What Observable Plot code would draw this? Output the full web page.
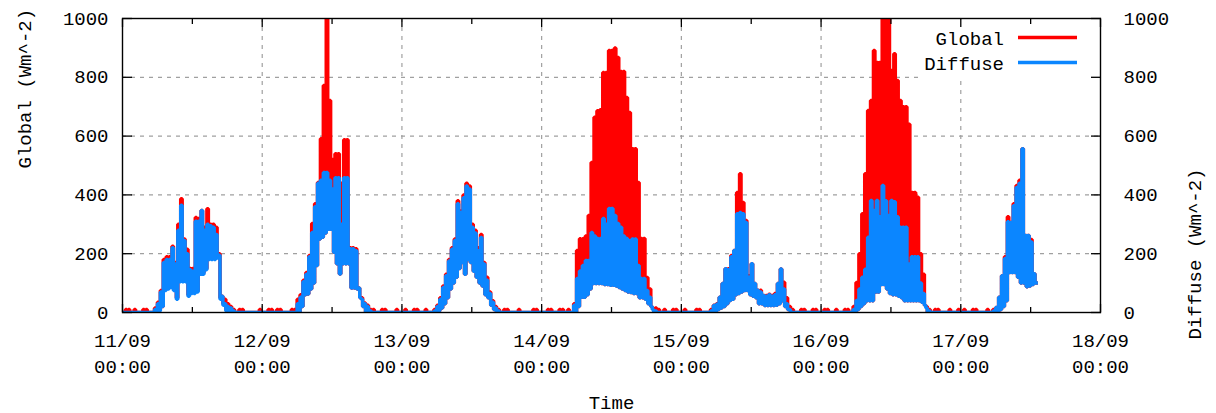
<!DOCTYPE html>
<html>
<head>
<meta charset="utf-8">
<script src="https://cdn.jsdelivr.net/npm/d3@7"></script>
<script src="https://cdn.jsdelivr.net/npm/@observablehq/plot@0.6"></script>
<style>
  html, body { margin: 0; padding: 0; background: #fff; }
  #chart { width: 1216px; height: 413px; }
</style>
</head>
<body>
<div id="chart"></div>
<script>
// ---------- data ----------
const startTime = "2013-09-11T00:00:00Z";   // first reading, 30-minute slots, second reading 15 min later
const dayTicks = ["2013-09-11","2013-09-12","2013-09-13","2013-09-14","2013-09-15","2013-09-16","2013-09-17","2013-09-18"];
const gridDays = ["2013-09-12","2013-09-13","2013-09-14","2013-09-15","2013-09-16","2013-09-17"];
const noonTicks = ["2013-09-11T12:00Z","2013-09-12T12:00Z","2013-09-13T12:00Z","2013-09-14T12:00Z","2013-09-15T12:00Z","2013-09-16T12:00Z","2013-09-17T12:00Z"];
const yTicks = [0, 200, 400, 600, 800, 1000];
const yGrid = [200, 400, 600, 800];
const seriesNames = ["Global", "Diffuse"];
const yLabelLeft = "Global (Wm^-2)";
const yLabelRight = "Diffuse (Wm^-2)";
const xLabel = "Time";

// Global irradiance, reading on the half hour (Wm^-2)
const globalA = [
 0,10,10,0,10,0,0,10,10,0,0, 15,35,75,180,190,190,225,170,300,387,250,215,150,150,323,320,347,290,353,300,300,290,200,55,45,30,20,10, 0,10,10,0,0,0,0,0,10,
 0,0,10,10,0,10,10,0,0,0,10,10, 45,60,110,136,194,303,370,442,591,772,1000,721,520,540,540,440,588,588,220,220,217,83,50,32,25,10,10, 0,0,10,10,0,0,0,10,0,
 0,10,0,0,10,10,0,0,10,0,0, 10,25,50,90,130,180,220,250,380,345,400,440,430,300,280,220,265,170,120,70,40,20,10, 0,10,10,0,0,0,10,0,0,0,0,10,10,0,
 0,0,10,10,0,0,10,10,0,10,0, 30,211,251,251,260,330,510,664,686,690,816,816,891,891,900,867,820,820,731,680,557,557,442,252,252,119,80,15,15,10, 0,10,0,0,10,10,0,
 0,10,0,0,0,10,10,0,0,0, 10,25,30,52,99,149,149,194,211,408,472,374,313,125,166,99,76,76,58,58,62,58,65,99,148,103,50,20,10, 0,0,10,10,0,0,10,10,0,
 0,10,10,0,0,10,0,0,10,10,0, 20,102,200,336,472,687,721,891,850,850,1000,1000,1000,823,880,789,721,700,700,640,408,408,392,200,130,20,10, 0,10,10,0,0,0,10,0,0,10,
 0,10,0,0,10,10,0,0,0,10,0, 10,17,52,125,190,326,306,370,432,450,557,262,262,248,132,100
];
// Global irradiance, reading at quarter past (Wm^-2)
const globalB = [
 0,0,0,0,0,0,0,0,0,0,0, 0,10,20,80,85,90,80,50,110,110,110,60,70,70,75,135,135,150,183,185,185,190,50,30,10,0,0,0, 0,0,0,0,0,0,0,0,0,
 0,0,0,0,0,0,0,0,0,0,0,0, 0,20,60,63,80,100,160,250,256,270,283,283,205,166,131,166,166,166,83,83,80,50,20,0,0,0,0, 0,0,0,0,0,0,0,0,0,
 0,0,0,0,0,0,0,0,0,0,0, 0,5,15,30,50,80,100,120,150,170,130,180,170,140,120,100,90,60,50,25,10,0,0, 0,0,0,0,0,0,0,0,0,0,0,0,0,0,
 0,0,0,0,0,0,0,0,0,0,0, 0,20,52,52,60,80,99,99,99,99,95,95,93,93,90,85,80,75,70,68,65,65,50,50,45,30,20,0,0,0, 0,0,0,0,0,0,0,
 0,0,0,0,0,0,0,0,0,0, 0,0,10,15,20,30,41,45,60,65,70,75,75,60,55,50,30,30,24,24,24,24,25,30,40,20,10,0,0, 0,0,0,0,0,0,0,0,0,
 0,0,0,0,0,0,0,0,0,0,0, 0,10,20,30,40,40,40,70,70,95,95,80,65,60,60,55,50,40,40,40,40,40,40,35,25,0,0, 0,0,0,0,0,0,0,0,0,0,
 0,0,0,0,0,0,0,0,0,0,0, 0,0,10,20,40,136,136,136,120,100,100,88,90,95,100,100
];
// Diffuse irradiance, reading on the half hour (Wm^-2)
const diffuseA = [
 0,0,0,0,0,0,0,0,0,0,0, 10,30,70,170,180,180,220,165,280,365,245,200,145,140,310,310,347,280,300,295,290,265,195,55,30,20,15,5, 0,0,0,0,0,0,0,0,0,
 0,0,0,0,0,0,0,0,0,0,0,0, 30,52,105,130,190,272,360,440,450,476,476,450,420,458,458,300,458,458,217,217,210,83,45,30,20,5,0, 0,0,0,0,0,0,0,0,0,
 0,0,0,0,0,0,0,0,0,0,0, 5,20,45,85,125,175,215,245,370,340,390,430,420,290,270,210,255,165,110,65,35,15,5, 0,0,0,0,0,0,0,0,0,0,0,0,0,0,
 0,0,0,0,0,0,0,0,0,0,0, 25,116,141,160,177,177,272,260,252,252,320,300,354,354,330,303,290,260,252,244,250,250,160,116,116,75,52,10,5,0, 0,0,0,0,0,0,0,
 0,0,0,0,0,0,0,0,0,0, 5,24,28,52,99,149,145,190,211,336,340,336,306,120,166,99,76,70,58,55,60,55,60,99,148,80,30,10,0, 0,0,0,0,0,0,0,0,0,
 0,0,0,0,0,0,0,0,0,0,0, 10,41,80,120,147,256,381,347,381,326,432,380,330,381,377,326,290,290,290,165,190,190,190,100,65,15,5, 0,0,0,0,0,0,0,0,0,0,
 0,0,0,0,0,0,0,0,0,0,0, 5,17,52,125,184,309,306,363,425,440,557,262,262,240,132,100
];
// Diffuse irradiance, reading at quarter past (Wm^-2)
const diffuseB = [
 0,0,0,0,0,0,0,0,0,0,0, 0,5,20,75,80,85,75,45,105,105,105,55,65,65,70,130,130,145,180,180,180,185,45,25,5,0,0,0, 0,0,0,0,0,0,0,0,0,
 0,0,0,0,0,0,0,0,0,0,0,0, 0,20,60,63,80,100,160,250,256,270,283,283,205,166,131,166,166,166,83,83,80,50,20,0,0,0,0, 0,0,0,0,0,0,0,0,0,
 0,0,0,0,0,0,0,0,0,0,0, 0,5,15,30,50,80,100,120,150,170,130,180,170,140,120,100,90,60,50,25,10,0,0, 0,0,0,0,0,0,0,0,0,0,0,0,0,0,
 0,0,0,0,0,0,0,0,0,0,0, 0,20,52,52,60,80,99,99,99,99,95,95,93,93,90,85,80,75,70,68,65,65,50,50,45,30,20,0,0,0, 0,0,0,0,0,0,0,
 0,0,0,0,0,0,0,0,0,0, 0,0,10,15,20,30,41,45,60,65,70,75,75,60,55,50,30,30,24,24,24,24,25,30,40,20,10,0,0, 0,0,0,0,0,0,0,0,0,
 0,0,0,0,0,0,0,0,0,0,0, 0,10,20,30,40,40,40,70,70,95,95,80,65,60,60,55,50,40,40,40,40,40,40,35,25,0,0, 0,0,0,0,0,0,0,0,0,0,
 0,0,0,0,0,0,0,0,0,0,0, 0,0,10,20,40,136,136,136,120,100,100,88,90,95,100,100
];

// ---------- styles ----------
const RED = "#ff0000";
const BLUE = "#0b86ff";
const GRID = "#a0a0a0";
const FONT = "'Liberation Mono', 'DejaVu Sans Mono', monospace";

// ---------- table ----------
const n = globalA.length;
if (![globalB, diffuseA, diffuseB].every(a => a.length === n)) throw new Error("length mismatch " + [n, globalB.length, diffuseA.length, diffuseB.length]);
const t0 = new Date(startTime).getTime();
const slot = 30 * 60 * 1000;
const rows = [];
for (let i = 0; i < n; i++) {
  rows.push({t: new Date(t0 + i * slot), g: globalA[i], d: diffuseA[i]});
  rows.push({t: new Date(t0 + i * slot + slot / 2), g: globalB[i], d: diffuseB[i]});
}
const parseT = s => new Date(s.length === 10 ? s + "T00:00:00Z" : s);
const dayDates = dayTicks.map(parseT);
const gridDates = gridDays.map(parseT);
const noonDates = noonTicks.map(parseT);
const fmtDay = d3.utcFormat("%d/%m"), fmtHour = d3.utcFormat("%H:%M");
const fmtY = d => String(d);

const chart = Plot.plot({
  width: 1216,
  height: 413,
  marginLeft: 122,
  marginRight: 116,
  marginTop: 18,
  marginBottom: 101,
  style: {fontFamily: FONT, fontSize: "19px", background: "#fff", color: "#000", overflow: "visible"},
  x: {type: "utc", domain: [dayDates[0], dayDates[dayDates.length - 1]], label: null},
  y: {domain: [0, 1000], label: null},
  marks: [
    Plot.gridX(gridDates, {stroke: GRID, strokeOpacity: 1, strokeWidth: 1.2, strokeDasharray: "4,5"}),
    Plot.gridY(yGrid, {stroke: GRID, strokeOpacity: 1, strokeWidth: 1.2, strokeDasharray: "4,5"}),
    Plot.line(rows, {x: "t", y: "g", curve: "step-after", stroke: RED, strokeWidth: 3.5, strokeLinejoin: "miter", strokeLinecap: "butt", clip: true}),
    Plot.line(rows, {x: "t", y: "d", curve: "step-after", stroke: BLUE, strokeWidth: 3.5, strokeLinejoin: "miter", strokeLinecap: "butt", clip: true}),
    Plot.frame({stroke: "#000", strokeWidth: 1.4}),
    Plot.axisY(yTicks, {anchor: "left", tickSize: -10, tickPadding: 24, strokeWidth: 1.3, label: null, tickFormat: fmtY}),
    Plot.axisY(yTicks, {anchor: "right", tickSize: -10, tickPadding: 33, strokeWidth: 1.3, label: null, tickFormat: fmtY}),
    Plot.axisX(dayDates, {anchor: "bottom", tickSize: -8, tickPadding: 24, strokeWidth: 1.3, lineHeight: 1.37, label: null,
      tickFormat: d => fmtDay(d) + "\n" + fmtHour(d)}),
    Plot.axisX(dayDates, {anchor: "top", tickSize: -8, strokeWidth: 1.3, label: null, tickFormat: () => ""}),
    Plot.axisX(noonDates, {anchor: "bottom", tickSize: -5, strokeWidth: 1.3, label: null, tickFormat: () => ""}),
    Plot.axisX(noonDates, {anchor: "top", tickSize: -5, strokeWidth: 1.3, label: null, tickFormat: () => ""}),
    Plot.text([yLabelLeft], {text: d => d, frameAnchor: "left", rotate: -90, dx: -98, dy: 3, fontSize: 19}),
    Plot.text([yLabelRight], {text: d => d, frameAnchor: "right", rotate: -90, dx: 94, dy: 3, fontSize: 19}),
    Plot.text([xLabel], {text: d => d, frameAnchor: "bottom", dy: 96, fontSize: 19})
  ]
});

// legend box (opaque, top-right inside the frame)
const ns = "http://www.w3.org/2000/svg";
const lg = document.createElementNS(ns, "g");
const box = document.createElementNS(ns, "rect");
box.setAttribute("x", 918); box.setAttribute("y", 19.5);
box.setAttribute("width", 181); box.setAttribute("height", 59);
box.setAttribute("fill", "#fff");
lg.appendChild(box);
const legendColors = [RED, BLUE];
seriesNames.forEach((name, i) => {
  const yb = 45 + i * 25;
  const tx = document.createElementNS(ns, "text");
  tx.setAttribute("x", 1004); tx.setAttribute("y", yb);
  tx.setAttribute("text-anchor", "end");
  tx.setAttribute("fill", "#000");
  tx.textContent = name;
  lg.appendChild(tx);
  const ln = document.createElementNS(ns, "line");
  ln.setAttribute("x1", 1018); ln.setAttribute("x2", 1077);
  ln.setAttribute("y1", yb - 7.5); ln.setAttribute("y2", yb - 7.5);
  ln.setAttribute("stroke", legendColors[i]); ln.setAttribute("stroke-width", 3.5);
  lg.appendChild(ln);
});
const frameEl = chart.querySelector('[aria-label="frame"]');
if (frameEl) chart.insertBefore(lg, frameEl); else chart.appendChild(lg);

document.getElementById("chart").appendChild(chart);
</script>
</body>
</html>
